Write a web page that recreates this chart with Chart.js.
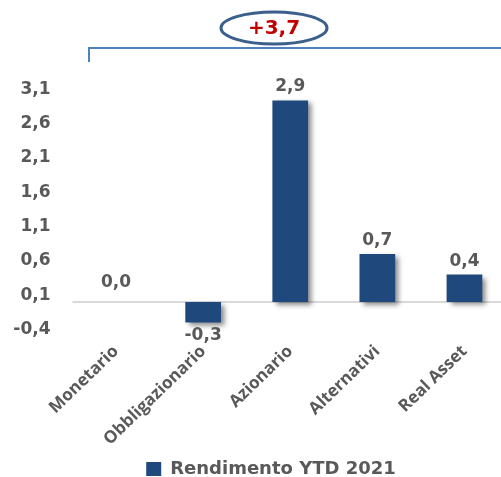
<!DOCTYPE html>
<html><head><meta charset="utf-8">
<script src="https://cdn.jsdelivr.net/npm/chart.js@4.4.1/dist/chart.umd.min.js"></script>
<style>
html,body{margin:0;padding:0;overflow:hidden;background:#fff}
#wrap{width:508px;height:477px;position:relative}
</style>
</head><body><div id="wrap"><canvas id="c"></canvas></div>
<script>
const categories = ['Monetario', 'Obbligazionario', 'Azionario', 'Alternativi', 'Real Asset'];
const values = [0.0, -0.3, 2.94, 0.7, 0.4];
const seriesName = 'Rendimento YTD 2021';
const tickValues = [-0.4, 0.1, 0.6, 1.1, 1.6, 2.1, 2.6, 3.1];

const FONT = "'DejaVu Sans', sans-serif";
const XFONT = "'Open Sans', sans-serif";
const GRAY = '#595959';
const BAR = '#1f497d';
const fmt = v => (Math.round(v * 10) / 10).toFixed(1).replace('.', ',').replace('-0,0', '0,0');

const shadowPlugin = {
  id: 'barShadow',
  beforeDatasetsDraw(chart) {
    const ctx = chart.ctx;
    ctx.save();
    ctx.shadowColor = 'rgba(0,0,0,0.45)';
    ctx.shadowBlur = 5;
    ctx.shadowOffsetX = 4;
    ctx.shadowOffsetY = 3;
  },
  afterDatasetsDraw(chart) {
    chart.ctx.restore();
  }
};

const zeroLinePlugin = {
  id: 'zeroLine',
  beforeDatasetsDraw(chart) {
    const {ctx, chartArea, scales} = chart;
    const y = scales.y.getPixelForValue(0);
    ctx.save();
    ctx.strokeStyle = '#d9d9d9';
    ctx.lineWidth = 2;
    ctx.beginPath();
    ctx.moveTo(chartArea.left, y);
    ctx.lineTo(chartArea.right, y);
    ctx.stroke();
    ctx.restore();
  }
};

const labelPlugin = {
  id: 'valueLabels',
  afterDatasetsDraw(chart) {
    const ctx = chart.ctx;
    const meta = chart.getDatasetMeta(0);
    ctx.save();
    ctx.font = "bold 17px " + FONT;
    ctx.fillStyle = GRAY;
    ctx.textAlign = 'center';
    meta.data.forEach((el, i) => {
      const v = values[i];
      if (v < 0) {
        ctx.textBaseline = 'top';
        ctx.fillText(fmt(v), el.x, el.y + 5);
      } else {
        ctx.textBaseline = 'alphabetic';
        ctx.fillText(fmt(v), el.x, el.y - (v === 0 ? 15 : 9));
      }
    });
    ctx.restore();
  }
};

const totalPlugin = {
  id: 'totalBracket',
  afterDraw(chart) {
    const ctx = chart.ctx;
    const total = values.reduce((a, b) => a + b, 0);
    ctx.save();
    ctx.strokeStyle = '#4f81bd';
    ctx.lineWidth = 2;
    ctx.beginPath();
    ctx.moveTo(89, 62);
    ctx.lineTo(89, 48);
    ctx.lineTo(chart.width, 48);
    ctx.stroke();
    ctx.fillStyle = '#ffffff';
    ctx.strokeStyle = '#3a5f8c';
    ctx.lineWidth = 3;
    ctx.beginPath();
    ctx.ellipse(274, 28, 53, 16, 0, 0, Math.PI * 2);
    ctx.fill();
    ctx.stroke();
    ctx.fillStyle = '#c00000';
    ctx.font = "bold 20px " + FONT;
    ctx.textAlign = 'center';
    ctx.textBaseline = 'middle';
    ctx.fillText((total >= 0 ? '+' : '') + fmt(total), 274, 29);
    ctx.restore();
  }
};

const legendShift = {
  id: 'legendShift',
  afterLayout(chart) {
    const lg = chart.legend;
    if (lg) { lg.left += 17; lg.right += 17; lg.top += 11; lg.bottom += 11; }
  }
};

new Chart(document.getElementById('c'), {
  type: 'bar',
  data: {
    labels: categories,
    datasets: [{
      label: seriesName,
      data: values,
      backgroundColor: BAR,
      borderWidth: 0,
      categoryPercentage: 1.0,
      barPercentage: 0.41
    }]
  },
  options: {
    responsive: true,
    maintainAspectRatio: false,
    animation: false,
    layout: { padding: { top: 89.5, left: 0, right: 0, bottom: 0 } },
    plugins: {
      tooltip: { enabled: false },
      legend: {
        position: 'bottom',
        labels: {
          boxWidth: 15, boxHeight: 14, padding: 0,
          color: GRAY,
          font: { family: FONT, size: 18, weight: 'bold' }
        }
      }
    },
    scales: {
      x: {
        grid: { display: false, drawTicks: false },
        border: { display: false },
        ticks: {
          color: GRAY,
          font: { family: XFONT, size: 17, weight: 'bold' },
          maxRotation: 44, minRotation: 44,
          autoSkip: false,
          padding: 12
        },
        afterFit(s) { s.height = 119.6; }
      },
      y: {
        min: -0.4, max: 3.1,
        grid: { display: false, drawTicks: false },
        border: { display: false },
        afterBuildTicks(s) { s.ticks = tickValues.map(v => ({ value: v })); },
        afterFit(s) { s.width = 72.5; },
        ticks: {
          color: GRAY,
          padding: 22,
          font: { family: FONT, size: 17, weight: 'bold' },
          callback: v => fmt(v)
        }
      }
    }
  },
  plugins: [zeroLinePlugin, shadowPlugin, labelPlugin, totalPlugin, legendShift]
});
</script>
</body></html>
